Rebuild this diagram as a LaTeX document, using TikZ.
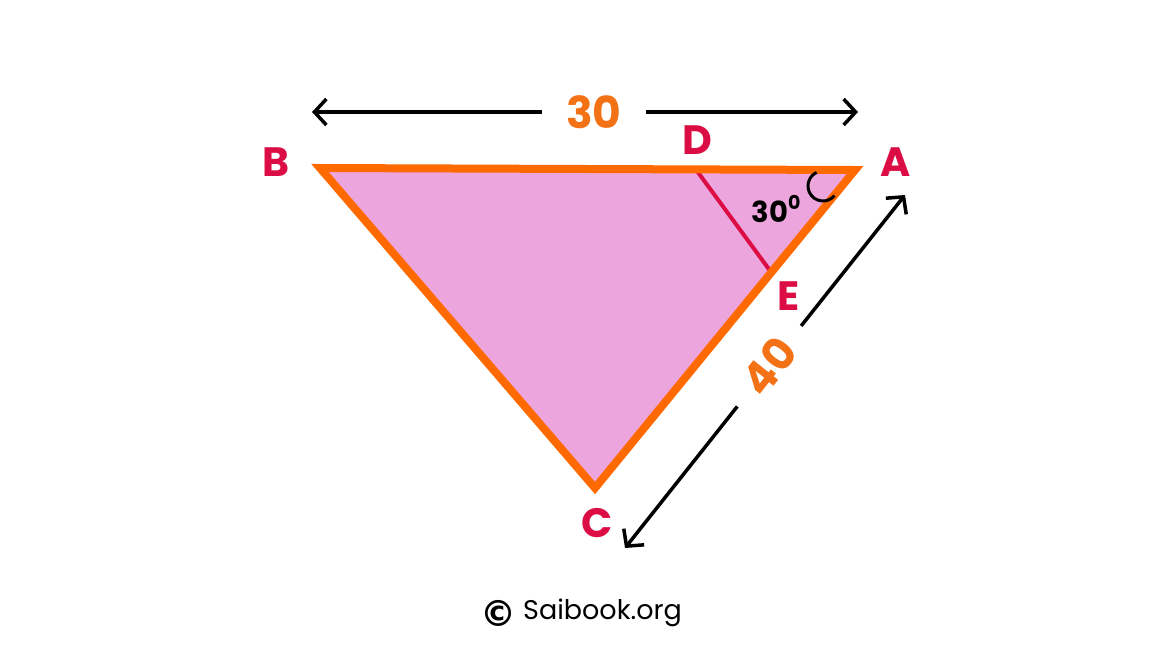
\documentclass[tikz,border=0pt]{standalone}
\usepackage{fontspec}
\setmainfont{Poppins}
\newfontfamily\symfont{DejaVu Sans}
\usetikzlibrary{arrows.meta}
\definecolor{tri}{HTML}{FF6A00}
\definecolor{fillpink}{HTML}{EDA5DD}
\definecolor{lab}{HTML}{DC0D45}
\definecolor{num}{HTML}{F47216}
\tikzset{
  vlabel/.style={text=lab,font=\fontsize{41}{41}\selectfont\bfseries,inner sep=0pt},
  dimlabel/.style={text=num,font=\fontsize{44}{44}\selectfont\bfseries,inner sep=0pt},
  dimarrow/.style={line width=3.5pt,{Straight Barb[length=12pt,width=26pt,line width=3.5pt]}-{Straight Barb[length=12pt,width=26pt,line width=3.5pt]}},
}
\begin{document}
\begin{tikzpicture}[x=1pt,y=-1pt]
\useasboundingbox (0,0) rectangle (1172,662);
\coordinate (B) at (320,168);
\coordinate (A) at (855,170);
\coordinate (C) at (595,488);
\coordinate (D) at (697,171);
\coordinate (E) at (771,272);
\fill[fillpink] (B) -- (A) -- (C) -- cycle;
\draw[lab,line width=4pt] (D) -- (E);
\draw[tri,line width=8pt,line join=miter] (B) -- (A) -- (C) -- cycle;
% angle mark
\draw[line width=3pt] ([shift={(-115:15)}]823,186) arc[start angle=-115,end angle=-320,radius=15];
\node[font=\fontsize{29}{29}\selectfont\bfseries,inner sep=0pt] (ang) at (776,209) {30\raisebox{0.45em}{\fontsize{19}{19}\selectfont 0}};
% vertex labels
\node[vlabel] (lB) at (276,162) {B};
\node[vlabel] (lD) at (697,140) {D};
\node[vlabel] (lA) at (896,162) {A};
\node[vlabel] (lE) at (789,296) {E};
\node[vlabel] (lC) at (597,523) {C};
% dimension 30
\coordinate (t1) at (312,112);
\coordinate (t2) at (858,112);
\draw[dimarrow] (t1) -- (t2);
\node[dimlabel,fill=white,inner xsep=24pt,inner ysep=4pt] (n30) at (594,112) {30};
% dimension 40
\coordinate (s1) at (625,548);
\coordinate (s2) at (905,195);
\draw[dimarrow] (s1) -- (s2);
\node[dimlabel,fill=white,rotate=51.6,inner xsep=22pt,inner ysep=2pt] (n40) at (769,366) {40};
% footer
\node[inner sep=0pt,anchor=east] (cpsym) at (517,613) {\fontsize{36}{36}\selectfont\symfont\bfseries ©};
\node[font=\fontsize{27}{27}\selectfont,inner sep=0pt,anchor=west] (cp) at (523,613) {Saibook.org};
\end{tikzpicture}
\end{document}
